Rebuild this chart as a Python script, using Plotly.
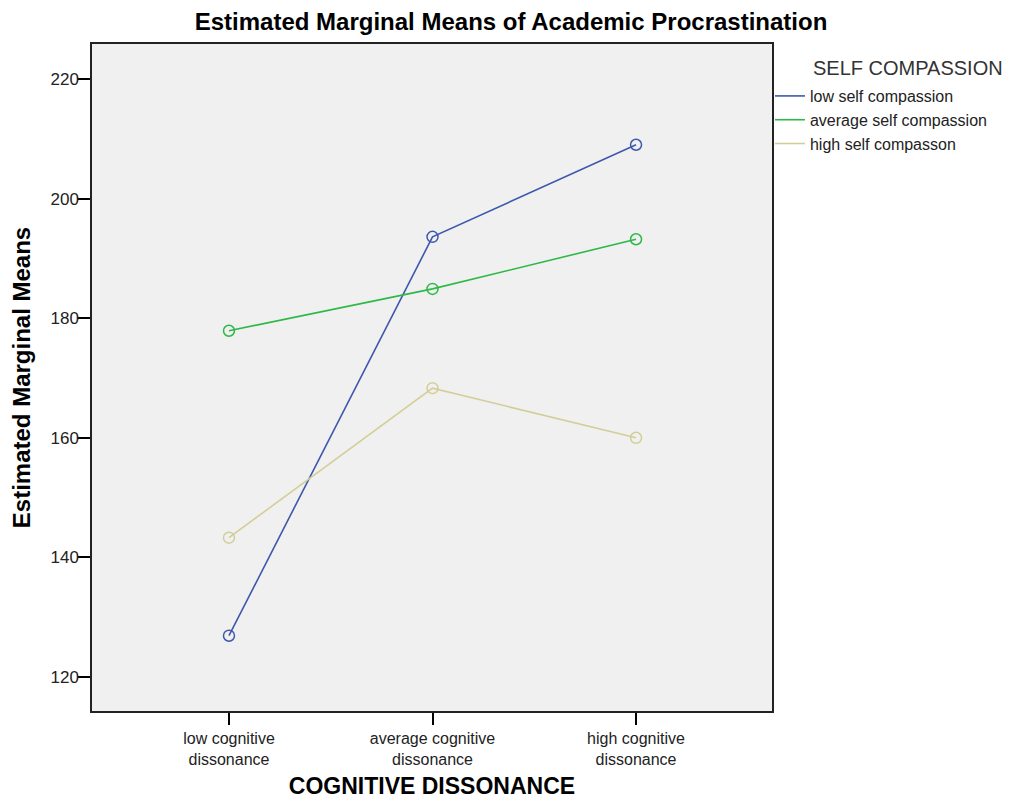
import plotly.graph_objects as go

categories = ["low cognitive<br>dissonance", "average cognitive<br>dissonance", "high cognitive<br>dissonance"]
series_names = ["low self compassion", "average self compassion", "high self compasson"]
low_sc = [126.9, 193.6, 209.0]
avg_sc = [177.9, 184.9, 193.2]
high_sc = [143.3, 168.3, 160.0]
y_ticks = [120, 140, 160, 180, 200, 220]

colors = ["#3E58AC", "#2EB848", "#D3CE97"]
FONT = "Liberation Sans, Arial, sans-serif"

fig = go.Figure()
x_idx = list(range(len(categories)))
for name, vals, col in zip(series_names, [low_sc, avg_sc, high_sc], colors):
    fig.add_trace(go.Scatter(
        x=x_idx, y=vals, mode="lines", name=name,
        line=dict(color=col, width=1.6), showlegend=True, hoverinfo="skip"))
    fig.add_trace(go.Scatter(
        x=x_idx, y=vals, mode="markers", name=name,
        marker=dict(symbol="circle-open", size=11, color=col, line=dict(width=1.5, color=col)),
        showlegend=False))

# note: the page body has an 8px default margin, margins below compensate for it
fig.update_layout(
    width=1021, height=802,
    margin=dict(l=84, r=257, t=36, b=99),
    paper_bgcolor="white", plot_bgcolor="#F0F0F0",
    font=dict(family=FONT, color="#222222"),
    title=dict(text="<b>Estimated Marginal Means of Academic Procrastination</b>",
               x=0.4927, xanchor="center", y=0.993, yanchor="top",
               font=dict(size=24, color="black", family=FONT)),
    showlegend=True,
    legend=dict(x=0.997, xanchor="left", y=0.9475, yanchor="top",
                bgcolor="rgba(0,0,0,0)", borderwidth=0, tracegroupgap=0,
                font=dict(size=16, color="#222222", family=FONT),
                itemclick=False, itemdoubleclick=False),
    annotations=[dict(text="SELF COMPASSION", xref="paper", yref="paper",
                      x=1.0574, y=0.964, xanchor="left", yanchor="middle", showarrow=False,
                      font=dict(size=20, color="#333333", family=FONT))],
)

fig.update_xaxes(
    range=[-0.673, 2.668], tickmode="array", tickvals=x_idx, ticktext=categories,
    ticks="outside", ticklen=12, tickwidth=1.5, tickcolor="black",
    showline=True, linecolor="#222222", linewidth=1.5, mirror=True,
    showgrid=False, zeroline=False, automargin=False,
    tickfont=dict(size=16, color="#222222", family=FONT),
    title=dict(text="<b>COGNITIVE DISSONANCE</b>", standoff=11,
               font=dict(size=23, color="black", family=FONT)),
)
fig.update_yaxes(
    range=[114.31, 225.85], tickmode="array", tickvals=y_ticks,
    ticks="outside", ticklen=12, tickwidth=1.5, tickcolor="black",
    showline=True, linecolor="#222222", linewidth=1.5, mirror=True,
    showgrid=False, zeroline=False, automargin=False, ticklabelstandoff=-4,
    tickfont=dict(size=17, color="#222222", family=FONT),
    title=dict(text="<b>Estimated Marginal Means</b>", standoff=17,
               font=dict(size=24, color="black", family=FONT)),
)

fig.write_html("out.html")
